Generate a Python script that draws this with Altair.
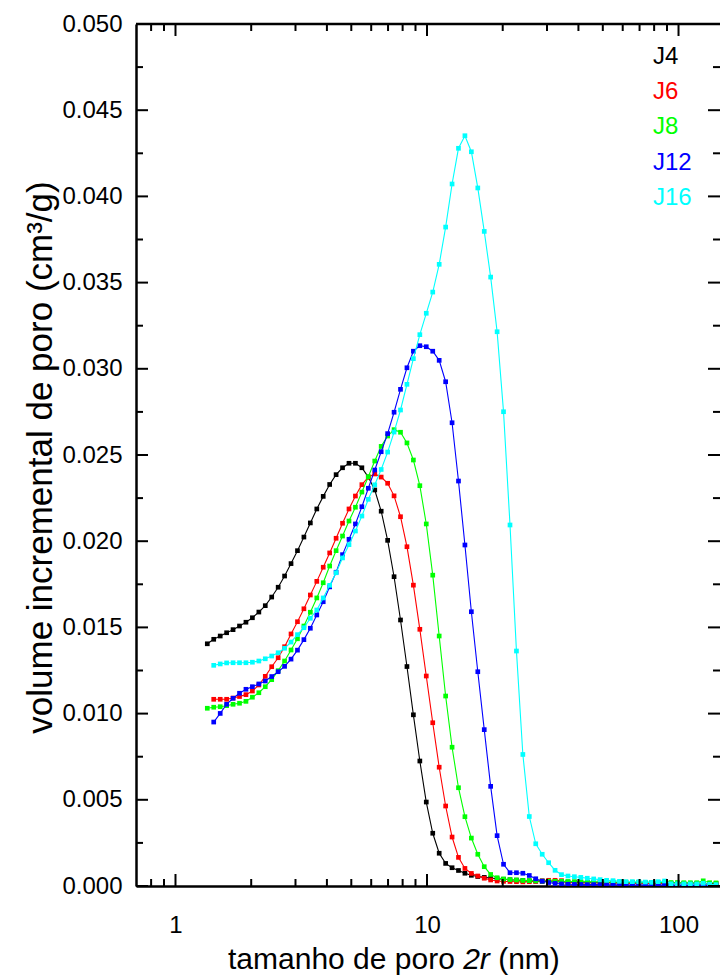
import altair as alt
import pandas as pd

# ---------------- data ----------------
x_nm = [1.338, 1.419, 1.506, 1.597, 1.694, 1.797, 1.906, 2.022, 2.145, 2.275,
        2.413, 2.560, 2.715, 2.880, 3.055, 3.240, 3.437, 3.646, 3.867, 4.102,
        4.351, 4.615, 4.896, 5.193, 5.509, 5.843, 6.198, 6.574, 6.974, 7.397,
        7.846, 8.323, 8.828, 9.365, 9.933, 10.54, 11.18, 11.86, 12.58, 13.34,
        14.15, 15.01, 15.92, 16.89, 17.91, 19.00, 20.15, 21.38, 22.68, 24.05,
        25.51, 27.06, 28.71, 30.45, 32.30, 34.26, 36.34, 38.55, 40.89, 43.38,
        46.01, 48.80, 51.77, 54.91, 58.25, 61.78, 65.54, 69.52, 73.74, 78.22,
        82.97, 88.01, 93.35, 99.02, 105.0, 111.4, 118.2, 125.4, 133.0, 141.0]

j4 = [0.01405, 0.01431, 0.01450, 0.01469, 0.01487, 0.01508, 0.01530, 0.01556, 0.01589, 0.01626,
      0.01676, 0.01733, 0.01798, 0.01870, 0.01945, 0.02024, 0.02106, 0.02187, 0.02260, 0.02329,
      0.02386, 0.02426, 0.02452, 0.02452, 0.02426, 0.02372, 0.02297, 0.02174, 0.02005, 0.01794,
      0.01543, 0.01273, 0.00993, 0.00725, 0.00487, 0.00306, 0.00190, 0.00131, 0.00106, 0.00090,
      0.00074, 0.00062, 0.00055, 0.00050, 0.00046, 0.00042, 0.00039, 0.00036, 0.00034, 0.00032,
      0.00030, 0.00028, 0.00027, 0.00026, 0.00025, 0.00024, 0.00023, 0.00022, 0.00022, 0.00021,
      0.00021, 0.00020, 0.00020, 0.00019, 0.00019, 0.00018, 0.00018, 0.00018, 0.00017, 0.00017,
      0.00017, 0.00016, 0.00016, 0.00016, 0.00015, 0.00015, 0.00015, 0.00014, 0.00014, 0.00014]

j6 = [None, 0.01083, 0.01083, 0.01083, 0.01090, 0.01099, 0.01110, 0.01131, 0.01166, 0.01216,
      0.01272, 0.01324, 0.01388, 0.01462, 0.01533, 0.01608, 0.01688, 0.01767, 0.01849, 0.01932,
      0.02017, 0.02104, 0.02187, 0.02262, 0.02328, 0.02371, 0.02390, 0.02372, 0.02336, 0.02263,
      0.02142, 0.01968, 0.01745, 0.01489, 0.01218, 0.00947, 0.00689, 0.00464, 0.00284, 0.00166,
      0.00102, 0.00073, 0.00058, 0.00045, 0.00035, 0.00029, 0.00027, 0.00026, 0.00025, 0.00024,
      0.00025, 0.00027, 0.00031, 0.00033, 0.00033, 0.00031, 0.00019, 0.00019, 0.00018, 0.00018,
      0.00018, 0.00017, 0.00017, 0.00017, 0.00016, 0.00016, 0.00016, 0.00015, 0.00015, 0.00015,
      0.00014, 0.00014, 0.00014, 0.00013, 0.00013, 0.00013, 0.00012, 0.00012, 0.00012, 0.00012]

j8 = [0.01031, 0.01037, 0.01040, 0.01046, 0.01054, 0.01060, 0.01071, 0.01095, 0.01121, 0.01156,
      0.01197, 0.01249, 0.01305, 0.01369, 0.01434, 0.01508, 0.01588, 0.01671, 0.01759, 0.01856,
      0.01945, 0.02030, 0.02117, 0.02197, 0.02285, 0.02374, 0.02465, 0.02550, 0.02610, 0.02647,
      0.02632, 0.02570, 0.02471, 0.02322, 0.02100, 0.01803, 0.01450, 0.01102, 0.00805, 0.00570,
      0.00402, 0.00278, 0.00184, 0.00112, 0.00067, 0.00048, 0.00041, 0.00037, 0.00035, 0.00032,
      0.00031, 0.00030, 0.00029, 0.00028, 0.00027, 0.00027, 0.00026, 0.00025, 0.00025, 0.00024,
      0.00024, 0.00023, 0.00023, 0.00023, 0.00022, 0.00022, 0.00022, 0.00021, 0.00021, 0.00021,
      0.00020, 0.00020, 0.00020, 0.00020, 0.00019, 0.00019, 0.00019, 0.00030, 0.00019, 0.00018]

j12 = [None, 0.00951, 0.01001, 0.01054, 0.01089, 0.01118, 0.01141, 0.01156, 0.01172, 0.01189,
       0.01215, 0.01243, 0.01274, 0.01316, 0.01368, 0.01429, 0.01495, 0.01572, 0.01649, 0.01735,
       0.01820, 0.01922, 0.02011, 0.02100, 0.02200, 0.02307, 0.02413, 0.02519, 0.02624, 0.02748,
       0.02881, 0.03006, 0.03102, 0.03134, 0.03128, 0.03102, 0.03049, 0.02925, 0.02687, 0.02349,
       0.01978, 0.01591, 0.01243, 0.00907, 0.00578, 0.00292, 0.00126, 0.00077, 0.00077, 0.00074,
       0.00061, 0.00042, 0.00028, 0.00020, 0.00015, 0.00012, 0.00010, 0.00009, 0.00009, 0.00008,
       0.00008, 0.00008, 0.00007, 0.00007, 0.00007, 0.00007, 0.00006, 0.00006, 0.00006, 0.00006,
       0.00006, 0.00005, 0.00005, 0.00005, 0.00005, 0.00005, 0.00005, 0.00004, 0.00004, 0.00004]

j16 = [None, 0.01280, 0.01288, 0.01294, 0.01295, 0.01295, 0.01295, 0.01298, 0.01305, 0.01318,
       0.01334, 0.01353, 0.01379, 0.01415, 0.01458, 0.01498, 0.01553, 0.01601, 0.01671, 0.01744,
       0.01817, 0.01903, 0.01980, 0.02059, 0.02146, 0.02243, 0.02327, 0.02416, 0.02517, 0.02633,
       0.02761, 0.02910, 0.03059, 0.03198, 0.03322, 0.03445, 0.03606, 0.03822, 0.04072, 0.04279,
       0.04352, 0.04259, 0.04049, 0.03797, 0.03532, 0.03215, 0.02751, 0.02094, 0.01363, 0.00763,
       0.00403, 0.00245, 0.00184, 0.00135, 0.00091, 0.00066, 0.00058, 0.00054, 0.00050, 0.00045,
       0.00041, 0.00037, 0.00033, 0.00031, 0.00027, 0.00025, 0.00025, 0.00025, 0.00023, 0.00021,
       0.00025, 0.00029, 0.00013, 0.00013, 0.00012, 0.00012, 0.00012, 0.00016, 0.00010, 0.00008]

series_names = ["J4", "J6", "J8", "J12", "J16"]
series_colors = ["#000000", "#ff0000", "#00ff00", "#0000ff", "#00ffff"]
series_values = [j4, j6, j8, j12, j16]

y_major = [0.000, 0.005, 0.010, 0.015, 0.020, 0.025, 0.030, 0.035, 0.040, 0.045, 0.050]
y_minor = [0.0025, 0.0075, 0.0125, 0.0175, 0.0225, 0.0275, 0.0325, 0.0375, 0.0425, 0.0475]
x_major = [1, 10, 100]
x_minor = [0.8, 0.9, 2, 3, 4, 5, 6, 7, 8, 9, 20, 30, 40, 50, 60, 70, 80, 90]

x_title_parts = ["tamanho de poro", "2r", "(nm)"]
y_title = "volume incremental de poro (cm³/g)"

# ---------------- chart ----------------
FONT = "Liberation Sans"
W, H = 584, 862
xscale = alt.Scale(type="log", domain=[0.6966, 146.2], nice=False)
yscale = alt.Scale(domain=[0, 0.05], nice=False)

rows = []
for name, ys in zip(series_names, series_values):
    for xv, yv in zip(x_nm, ys):
        if yv is not None:
            rows.append({"serie": name, "d": xv, "v": yv})
df = pd.DataFrame(rows)

x_axis = alt.Axis(values=x_major, format=".0f", ticks=False, tickSize=0, grid=False,
                  domain=True, domainColor="black", domainWidth=2.5,
                  labelFont=FONT, labelFontSize=24, labelColor="black",
                  labelPadding=27, title=None)
y_axis = alt.Axis(values=y_major, format=".3f", ticks=False, tickSize=0, grid=False,
                  domain=True, domainColor="black", domainWidth=2.5,
                  labelFont=FONT, labelFontSize=24, labelColor="black",
                  labelPadding=14, title=y_title, titleFont=FONT, titleFontSize=35,
                  titleFontWeight="normal", titleColor="black", titleAngle=270,
                  titleX=-96, titleY=433, titleAlign="center", titleBaseline="middle")

X = alt.X("d:Q", scale=xscale, axis=x_axis)
Y = alt.Y("v:Q", scale=yscale, axis=y_axis)

layers = []
base = alt.Chart(df)
for name, color in zip(series_names, series_colors):
    sub = base.transform_filter(alt.datum.serie == name)
    layers.append(sub.mark_line(color=color, strokeWidth=1.1, clip=True).encode(x=X, y=Y))
    layers.append(sub.mark_point(shape="square", filled=True, size=22, color=color,
                                 opacity=1, clip=True).encode(x=X, y=Y))

# inward ticks
def yticks(vals, length, at_right):
    x0 = W if at_right else 0
    x1 = W - length if at_right else length
    return alt.Chart(pd.DataFrame({"v": vals})).mark_rule(color="black", strokeWidth=2).encode(
        y=Y, x=alt.value(x0), x2=alt.value(x1))

def xticks(vals, length, at_top):
    y0 = 0 if at_top else H
    y1 = length if at_top else H - length
    return alt.Chart(pd.DataFrame({"d": vals})).mark_rule(color="black", strokeWidth=2).encode(
        x=X, y=alt.value(y0), y2=alt.value(y1))

layers += [yticks(y_major, 12, False), yticks(y_minor, 7, False),
           yticks(y_major, 12, True), yticks(y_minor, 7, True),
           xticks(x_major, 12, False), xticks(x_minor, 7, False),
           xticks(x_major, 12, True), xticks(x_minor, 7, True)]

# top frame line
layers.append(alt.Chart(pd.DataFrame({"a": [0]})).mark_rule(color="black", strokeWidth=2.5).encode(
    x=alt.value(0), x2=alt.value(W), y=alt.value(0)))

# legend (coloured labels only)
for i, (name, color) in enumerate(zip(series_names, series_colors)):
    layers.append(alt.Chart(pd.DataFrame({"t": [name]})).mark_text(
        color=color, align="left", baseline="middle", font=FONT, fontSize=24).encode(
        text="t:N", x=alt.value(517), y=alt.value(33 + 35.2 * i)))

# x title with italic "2r"
tx = 92
fs = 30
parts_pos = [(x_title_parts[0], tx, "normal"),
             (x_title_parts[1], tx + 7.838 * fs, "italic"),
             (x_title_parts[2], tx + (7.838 + 0.889 + 0.278) * fs, "normal")]
for txt, px, style in parts_pos:
    layers.append(alt.Chart(pd.DataFrame({"t": [txt]})).mark_text(
        color="black", align="left", baseline="alphabetic", font=FONT, fontSize=fs,
        fontStyle=style).encode(text="t:N", x=alt.value(px), y=alt.value(H + 83)))

chart = alt.layer(*layers).properties(
    width=W, height=H,
    padding={"left": 136, "top": 24, "right": 0, "bottom": 91},
    autosize=alt.AutoSizeParams(type="none"),
).configure_view(stroke=None).configure(background="white")

chart.save("out.html", embed_options={"renderer": "svg", "actions": False})
